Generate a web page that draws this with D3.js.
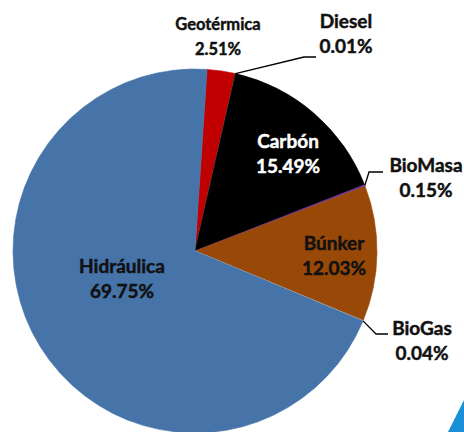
<!DOCTYPE html>
<html>
<head>
<meta charset="utf-8">
<script src="https://cdn.jsdelivr.net/npm/d3@7"></script>
<style>
  body { margin: 0; background: #fff; }
  svg { display: block; }
  text { font-family: Lato, "Open Sans", sans-serif; font-weight: bold; }
</style>
</head>
<body>
<svg width="464" height="432"></svg>
<script>
// fuentes de generacion (orden horario)
var categories = ['Geotérmica', 'Diesel', 'Carbón', 'BioMasa', 'Búnker', 'BioGas', 'Hidráulica'];
var values = [2.51, 0.01, 15.49, 0.15, 12.03, 0.04, 69.75];
var colors = ['#c00000', '#7f7f7f', '#000000', '#7030a0', '#984807', '#d9d9d9', '#4673a8'];

// where each label goes, and leader elbows for the small slices
var labelLayout = {
  'Geotérmica': { x: 218, y: 30, size: 16.5 },
  'Diesel':     { x: 346, y: 28, size: 19, elbow: [[304, 57], [316, 57]] },
  'Carbón':     { x: 288, y: 148, size: 19, fill: '#fff' },
  'BioMasa':    { x: 426, y: 172, size: 19, elbow: [[369, 172], [383, 172]] },
  'Búnker':     { x: 334, y: 250, size: 19 },
  'BioGas':     { x: 422, y: 335, size: 19, elbow: [[376, 334], [388, 334]] },
  'Hidráulica': { x: 122, y: 273, size: 19 }
};

var svg = d3.select('svg');
var cx = 195, cy = 251, R = 182;
var offset = 3.8 * Math.PI / 180;

var pie = d3.pie()
  .sort(null)
  .value(function(d) { return d.v; })
  .startAngle(offset)
  .endAngle(offset + 2 * Math.PI);

var data = categories.map(function(c, i) { return { name: c, v: values[i], color: colors[i] }; });
var arcs = pie(data);

var arc = d3.arc().innerRadius(0).outerRadius(R);

var g = svg.append('g').attr('transform', 'translate(' + cx + ',' + cy + ')');

g.selectAll('path')
  .data(arcs)
  .enter()
  .append('path')
  .attr('d', arc)
  .attr('fill', function(d) { return d.data.color; })
  .attr('stroke', function(d) { return d.data.color; })
  .attr('stroke-width', 0.6);

// leader lines
arcs.forEach(function(d) {
  var L = labelLayout[d.data.name];
  if (!L.elbow) return;
  var a = (d.startAngle + d.endAngle) / 2;
  var p0 = [cx + R * Math.sin(a), cy - R * Math.cos(a)];
  var pts = [p0].concat(L.elbow);
  svg.append('path')
    .attr('d', d3.line()(pts))
    .attr('fill', 'none')
    .attr('stroke', '#000')
    .attr('stroke-width', 1.3);
});

// labels
arcs.forEach(function(d) {
  var L = labelLayout[d.data.name];
  var col = L.fill || '#111';
  var t = svg.append('text')
    .attr('text-anchor', 'middle')
    .style('font-size', L.size + 'px')
    .style('fill', col)
    .style('stroke', col)
    .style('stroke-width', 0.45);
  t.append('tspan').attr('x', L.x).attr('y', L.y).text(d.data.name);
  t.append('tspan').attr('x', L.x).attr('y', L.y + 25)
    .text(d3.format('.2f')(d.data.v) + '%');
});

// corner decoration (piece of slide background)
svg.append('path')
  .attr('d', 'M448,432L464,400L464,432Z')
  .attr('fill', '#1b8ed6');
</script>
</body>
</html>
